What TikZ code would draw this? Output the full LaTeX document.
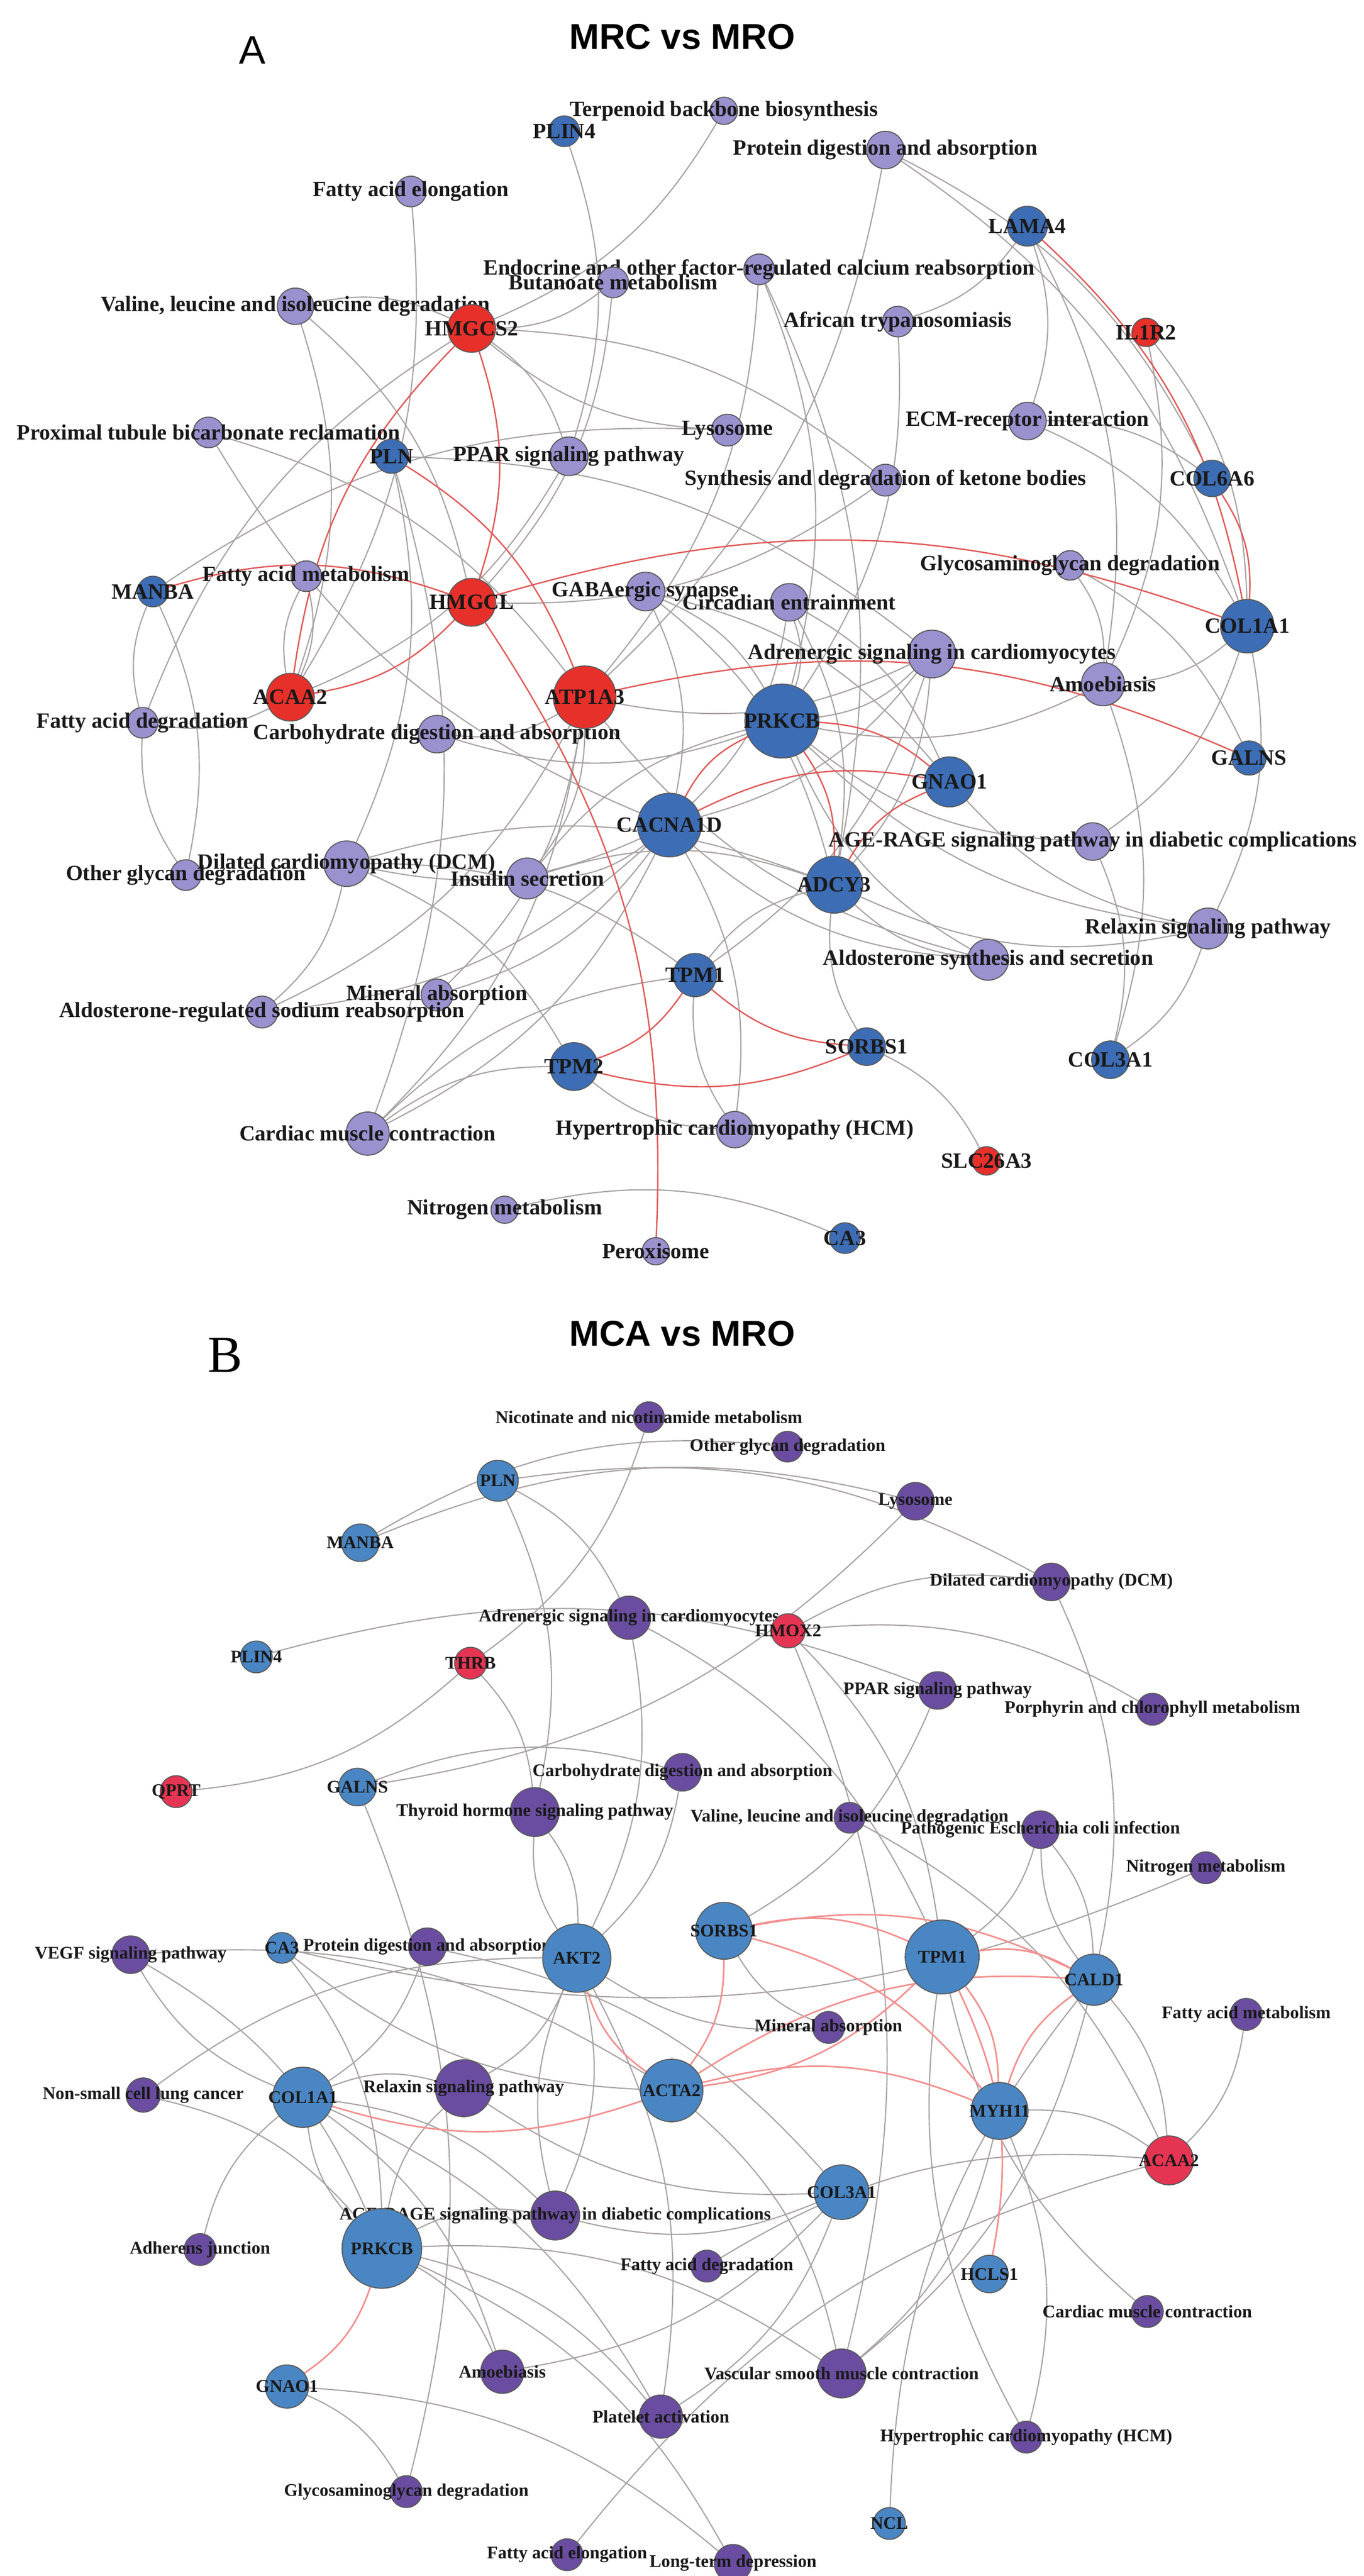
\documentclass[tikz,border=0pt]{standalone}
\usepackage{fontspec}
\setmainfont{Liberation Serif}
\newfontfamily\sansf{Liberation Sans}
\usetikzlibrary{backgrounds}
\definecolor{blueA}{HTML}{3D6DB5}
\definecolor{redA}{HTML}{E8302B}
\definecolor{purA}{HTML}{9A91CF}
\definecolor{blueB}{HTML}{4A86C3}
\definecolor{redB}{HTML}{E63553}
\definecolor{purB}{HTML}{6A4DA0}
\definecolor{eg}{HTML}{A8A3A3}
\definecolor{erA}{HTML}{E05A5A}
\definecolor{erB}{HTML}{F39090}
\tikzset{
 nd/.style={circle,draw=black!65,line width=0.5pt,inner sep=0pt},
 gA/.style={nd,fill=blueA}, rA/.style={nd,fill=redA}, pA/.style={nd,fill=purA},
 gB/.style={nd,fill=blueB}, rB/.style={nd,fill=redB}, pB/.style={nd,fill=purB},
 gAl/.style={lA}, rAl/.style={lA}, pAl/.style={lA},
 gBl/.style={lB}, rBl/.style={lB}, pBl/.style={lB},
 lA/.style={font=\fontsize{10.9}{12}\selectfont\bfseries,inner sep=0pt,text=black!90},
 lB/.style={font=\fontsize{8.9}{10}\selectfont\bfseries,inner sep=0pt,text=black!90},
 e/.style={draw=eg,line width=0.6pt,bend left=18},
 f/.style={draw=eg,line width=0.6pt,bend right=18},
 ra/.style={draw=erA,line width=0.7pt,bend left=18},
 rb/.style={draw=erB,line width=0.8pt,bend left=18},
}
\newcommand\N[6]{\node[#1,minimum size=#5*0.02cm,label={[#1l]center:#6}] (#2) at (#3*0.01,-#4*0.01) {};}
\begin{document}
\begin{tikzpicture}
\useasboundingbox (0,0) rectangle (23.99,-45.31);
% ---------- Panel A ----------
\node[font=\sansf\bfseries\fontsize{18}{20}\selectfont] (tA) at (12.0,-0.65) {MRC vs MRO};
\node[font=\sansf\fontsize{20}{22}\selectfont] (A) at (4.44,-0.88) {A};
\N{pA}{aTerp}{1274}{195}{24}{Terpenoid backbone biosynthesis}
\N{gA}{aPLIN4}{993}{231}{27}{PLIN4}
\N{pA}{aProt}{1558}{264}{33}{Protein digestion and absorption}
\N{pA}{aFAel}{723}{337}{27}{Fatty acid elongation}
\N{gA}{aLAMA4}{1808}{398}{35}{LAMA4}
\N{pA}{aEndo}{1336}{474}{27}{Endocrine and other factor-regulated calcium reabsorption}
\N{pA}{aButa}{1079}{497}{27}{Butanoate metabolism}
\N{pA}{aVal}{520}{539}{32}{Valine, leucine and isoleucine degradation}
\N{pA}{aAfr}{1580}{566}{27}{African trypanosomiasis}
\N{rA}{aIL1R2}{2017}{585}{25}{IL1R2}
\N{pA}{aProx}{367}{761}{27}{Proximal tubule bicarbonate reclamation}
\N{pA}{aLyso}{1280}{757}{28}{Lysosome}
\N{pA}{aECM}{1808}{741}{33}{ECM-receptor interaction}
\N{gA}{aPLN}{689}{803}{30}{PLN}
\N{pA}{aPPAR}{1001}{803}{34}{PPAR signaling pathway}
\N{pA}{aSynth}{1558}{845}{28}{Synthesis and degradation of ketone bodies}
\N{gA}{aCOL6A6}{2133}{842}{32}{COL6A6}
\N{pA}{aGlyco}{1883}{995}{26}{Glycosaminoglycan degradation}
\N{pA}{aFAmet}{539}{1014}{27}{Fatty acid metabolism}
\N{gA}{aMANBA}{269}{1041}{27}{MANBA}
\N{pA}{aGABA}{1136}{1041}{34}{GABAergic synapse}
\N{pA}{aCirc}{1389}{1060}{33}{Circadian entrainment}
\N{gA}{aCOL1A1}{2195}{1102}{47}{COL1A1}
\N{pA}{aAdr}{1640}{1151}{42}{Adrenergic signaling in cardiomyocytes}
\N{pA}{aAmoe}{1941}{1204}{38}{Amoebiasis}
\N{pA}{aFAdeg}{251}{1272}{27}{Fatty acid degradation}
\N{pA}{aCarb}{769}{1292}{33}{Carbohydrate digestion and absorption}
\N{gA}{aGALNS}{2198}{1334}{30}{GALNS}
\N{pA}{aAGE}{1923}{1481}{33}{AGE-RAGE signaling pathway in diabetic complications}
\N{pA}{aOther}{327}{1540}{27}{Other glycan degradation}
\N{pA}{aDCM}{610}{1520}{40}{Dilated cardiomyopathy (DCM)}
\N{pA}{aInsulin}{928}{1546}{36}{Insulin secretion}
\N{pA}{aRelax}{2126}{1634}{36}{Relaxin signaling pathway}
\N{pA}{aAldoS}{1739}{1689}{36}{Aldosterone synthesis and secretion}
\N{pA}{aMineral}{769}{1751}{28}{Mineral absorption}
\N{pA}{aAldoR}{461}{1781}{28}{Aldosterone-regulated sodium reabsorption}
\N{gA}{aCOL3A1}{1954}{1865}{33}{COL3A1}
\N{pA}{aHCM}{1293}{1988}{32}{Hypertrophic cardiomyopathy (HCM)}
\N{pA}{aCardiac}{647}{1995}{38}{Cardiac muscle contraction}
\N{rA}{aSLC}{1736}{2043}{25}{SLC26A3}
\N{pA}{aNitro}{888}{2129}{24}{Nitrogen metabolism}
\N{pA}{aPerox}{1154}{2202}{24}{Peroxisome}
\N{gA}{aCA3}{1487}{2179}{27}{CA3}
\N{rA}{aHMGCS2}{830}{578}{42}{HMGCS2}
\N{rA}{aHMGCL}{830}{1060}{42}{HMGCL}
\N{rA}{aACAA2}{511}{1227}{42}{ACAA2}
\N{rA}{aATP}{1029}{1227}{55}{ATP1A3}
\N{gA}{aPRKCB}{1376}{1269}{65}{PRKCB}
\N{gA}{aGNAO1}{1671}{1376}{44}{GNAO1}
\N{gA}{aCACNA}{1178}{1452}{56}{CACNA1D}
\N{gA}{aADCY3}{1468}{1557}{50}{ADCY3}
\N{gA}{aTPM1}{1223}{1716}{38}{TPM1}
\N{gA}{aSORBS1}{1525}{1842}{33}{SORBS1}
\N{gA}{aTPM2}{1010}{1877}{42}{TPM2}
% ---------- Panel B ----------
\node[font=\sansf\bfseries\fontsize{18}{20}\selectfont] (tB) at (12.0,-23.46) {MCA vs MRO};
\node[font=\fontsize{26}{28}\selectfont] (B) at (3.96,-23.84) {B};
\N{pB}{bNic}{1142}{2494}{27}{Nicotinate and nicotinamide metabolism}
\N{pB}{bOther}{1386}{2546}{27}{Other glycan degradation}
\N{gB}{bPLN}{876}{2606}{36}{PLN}
\N{pB}{bLyso}{1611}{2642}{33}{Lysosome}
\N{gB}{bMANBA}{634}{2715}{33}{MANBA}
\N{pB}{bDCM}{1850}{2784}{33}{Dilated cardiomyopathy (DCM)}
\N{pB}{bAdr}{1107}{2847}{38}{Adrenergic signaling in cardiomyocytes}
\N{rB}{bHMOX2}{1387}{2870}{30}{HMOX2}
\N{gB}{bPLIN4}{451}{2916}{28}{PLIN4}
\N{rB}{bTHRB}{828}{2927}{28}{THRB}
\N{pB}{bPPAR}{1650}{2975}{33}{PPAR signaling pathway}
\N{pB}{bPorph}{2028}{3008}{28}{Porphyrin and chlorophyll metabolism}
\N{pB}{bCarb}{1201}{3119}{33}{Carbohydrate digestion and absorption}
\N{gB}{bGALNS}{629}{3145}{33}{GALNS}
\N{rB}{bQPRT}{310}{3153}{28}{QPRT}
\N{pB}{bThy}{941}{3189}{43}{Thyroid hormone signaling pathway}
\N{pB}{bVal}{1495}{3199}{27}{Valine, leucine and isoleucine degradation}
\N{pB}{bPath}{1831}{3220}{33}{Pathogenic Escherichia coli infection}
\N{pB}{bNitro}{2122}{3287}{28}{Nitrogen metabolism}
\N{gB}{bCA3}{496}{3428}{27}{CA3}
\N{pB}{bProt}{752}{3426}{33}{Protein digestion and absorption}
\N{pB}{bVEGF}{230}{3440}{33}{VEGF signaling pathway}
\N{pB}{bFAmet}{2193}{3545}{28}{Fatty acid metabolism}
\N{pB}{bMineral}{1458}{3568}{28}{Mineral absorption}
\N{pB}{bRelax}{816}{3675}{50}{Relaxin signaling pathway}
\N{pB}{bNSCLC}{252}{3687}{30}{Non-small cell lung cancer}
\N{pB}{bAGE}{977}{3899}{43}{AGE-RAGE signaling pathway in diabetic complications}
\N{pB}{bAdh}{352}{3959}{28}{Adherens junction}
\N{pB}{bFAdeg}{1244}{3988}{28}{Fatty acid degradation}
\N{pB}{bCardiac}{2019}{4068}{28}{Cardiac muscle contraction}
\N{pB}{bAmoe}{884}{4174}{38}{Amoebiasis}
\N{pB}{bVSMC}{1481}{4177}{43}{Vascular smooth muscle contraction}
\N{pB}{bPlate}{1163}{4253}{38}{Platelet activation}
\N{pB}{bHCM}{1806}{4289}{28}{Hypertrophic cardiomyopathy (HCM)}
\N{pB}{bGlyco}{715}{4385}{28}{Glycosaminoglycan degradation}
\N{gB}{bNCL}{1565}{4441}{28}{NCL}
\N{pB}{bFAel}{998}{4496}{28}{Fatty acid elongation}
\N{pB}{bLTD}{1290}{4511}{33}{Long-term depression}
\N{gB}{bSORBS1}{1274}{3398}{50}{SORBS1}
\N{gB}{bTPM1}{1658}{3444}{65}{TPM1}
\N{gB}{bAKT2}{1015}{3446}{60}{AKT2}
\N{gB}{bCALD1}{1925}{3484}{45}{CALD1}
\N{gB}{bACTA2}{1182}{3679}{55}{ACTA2}
\N{gB}{bCOL1A1}{533}{3691}{53}{COL1A1}
\N{gB}{bMYH11}{1759}{3715}{50}{MYH11}
\N{rB}{bACAA2}{2057}{3802}{43}{ACAA2}
\N{gB}{bCOL3A1}{1481}{3858}{48}{COL3A1}
\N{gB}{bPRKCB}{672}{3957}{70}{PRKCB}
\N{gB}{bHCLS1}{1741}{4002}{33}{HCLS1}
\N{gB}{bGNAO1}{505}{4200}{38}{GNAO1}
\begin{scope}[on background layer]
% Panel A gray edges
\foreach \u/\v in {aPLIN4/aPPAR,aTerp/aHMGCS2,aFAel/aACAA2,aButa/aHMGCS2,aButa/aHMGCL,aVal/aHMGCS2,aVal/aACAA2,aVal/aHMGCL,
 aHMGCS2/aPPAR,aHMGCS2/aSynth,aProx/aATP,aPLN/aAdr,aPLN/aDCM,aPPAR/aACAA2,aProt/aATP,aProt/aCOL6A6,aProt/aCOL1A1,
 aLAMA4/aECM,aLAMA4/aAmoe,aLAMA4/aAfr,aIL1R2/aCOL1A1,aIL1R2/aAmoe,aECM/aCOL6A6,aECM/aCOL1A1,aGlyco/aGALNS,
 aCOL1A1/aAmoe,aCOL1A1/aRelax,aCOL1A1/aAGE,aCirc/aPRKCB,aCirc/aCACNA,aCirc/aADCY3,aCirc/aGNAO1,aGABA/aPRKCB,aGABA/aGNAO1,
 aGABA/aADCY3,aGABA/aCACNA,aAdr/aPRKCB,aAdr/aCACNA,aAdr/aADCY3,aAdr/aATP,aAdr/aTPM1,aAfr/aPRKCB,aMANBA/aOther,aMANBA/aLyso,
 aSynth/aHMGCL,aAmoe/aPRKCB,aAmoe/aCOL3A1,aAGE/aPRKCB,aAGE/aCOL3A1,aRelax/aGNAO1,aRelax/aADCY3,aRelax/aCOL3A1,aRelax/aPRKCB,
 aAldoS/aADCY3,aAldoS/aPRKCB,aAldoS/aCACNA,aAldoS/aATP,aACAA2/aFAdeg,aACAA2/aFAmet,aATP/aCarb,aATP/aInsulin,aATP/aMineral,
 aATP/aAldoR,aATP/aCardiac,aCACNA/aDCM,aCACNA/aInsulin,aCACNA/aCardiac,aCACNA/aHCM,aDCM/aTPM1,aDCM/aTPM2,aDCM/aADCY3,
 aHCM/aTPM1,aHCM/aTPM2,aCardiac/aTPM1,aCardiac/aTPM2,aInsulin/aADCY3,aInsulin/aPRKCB,aNitro/aCA3,aSORBS1/aSLC,aSORBS1/aADCY3,
 aTPM1/aADCY3,aEndo/aPRKCB,aEndo/aATP,aEndo/aADCY3,aFAdeg/aHMGCS2,aFAmet/aACAA2,aPLN/aCardiac,aGlyco/aAmoe,aDCM/aAldoR}
 \draw[e] (\u) to (\v);
\foreach \u/\v in {aFAdeg/aOther,aMANBA/aFAdeg,aCarb/aPRKCB,aMineral/aCACNA,aAldoR/aCACNA,aProx/aCACNA,aHMGCS2/aLyso}
 \draw[f] (\u) to (\v);
% Panel A red edges
\foreach \u/\v in {aACAA2/aHMGCS2,aHMGCS2/aHMGCL,aMANBA/aHMGCL,aHMGCL/aACAA2,aPLN/aATP,aLAMA4/aCOL1A1,aCOL6A6/aCOL1A1,
 aHMGCL/aCOL1A1,aATP/aGALNS,aPRKCB/aGNAO1,aPRKCB/aADCY3,aCACNA/aGNAO1,aADCY3/aGNAO1,aCACNA/aPRKCB,aTPM1/aTPM2,
 aSORBS1/aTPM1,aSORBS1/aTPM2,aHMGCL/aPerox}
 \draw[ra] (\u) to (\v);
% Panel B gray edges
\foreach \u/\v in {bNic/bTHRB,bTHRB/bQPRT,bTHRB/bThy,bPLN/bThy,bPLN/bAdr,bPLN/bDCM,bMANBA/bLyso,bMANBA/bOther,bPLIN4/bPPAR,
 bGALNS/bCarb,bGALNS/bGlyco,bLyso/bGALNS,bHMOX2/bDCM,bHMOX2/bPorph,bHMOX2/bVSMC,bAdr/bTPM1,bAdr/bAKT2,bPPAR/bSORBS1,
 bPath/bTPM1,bPath/bCALD1,bDCM/bCALD1,bNitro/bCA3,bVal/bACAA2,bThy/bAKT2,bCarb/bAKT2,bVEGF/bACTA2,bVEGF/bPRKCB,
 bProt/bCOL1A1,bProt/bCOL3A1,bCOL1A1/bRelax,bCOL1A1/bAGE,bCOL1A1/bPlate,bCOL1A1/bAmoe,bNSCLC/bAKT2,bNSCLC/bPRKCB,bAdh/bCOL1A1,
 bPRKCB/bAGE,bPRKCB/bAmoe,bPRKCB/bPlate,bPRKCB/bVSMC,bPRKCB/bRelax,bPRKCB/bLTD,bGNAO1/bLTD,bFAel/bACAA2,bFAdeg/bACAA2,
 bFAmet/bACAA2,bCardiac/bTPM1,bHCM/bTPM1,bNCL/bCALD1,bCOL3A1/bAGE,bCOL3A1/bRelax,bCOL3A1/bPlate,bCOL3A1/bAmoe,
 bACTA2/bVSMC,bMYH11/bVSMC,bCALD1/bVSMC,bMineral/bAKT2,bAKT2/bPlate,bAKT2/bRelax,bAKT2/bAGE,bCA3/bPRKCB,bGNAO1/bGlyco,
 bCALD1/bACAA2,bMYH11/bACAA2,bMineral/bSORBS1,bHMOX2/bTPM1}
 \draw[e] (\u) to (\v);
\foreach \u/\v in {bThy/bAKT2,bPath/bCALD1,bCA3/bACTA2,bCOL1A1/bPRKCB,bAKT2/bAGE,bVEGF/bCOL1A1,bHCM/bMYH11}
 \draw[f] (\u) to (\v);
% Panel B red edges
\foreach \u/\v in {bSORBS1/bTPM1,bSORBS1/bACTA2,bSORBS1/bMYH11,bSORBS1/bCALD1,bTPM1/bACTA2,bTPM1/bCALD1,bTPM1/bMYH11,
 bTPM1/bHCLS1,bACTA2/bCALD1,bACTA2/bMYH11,bMYH11/bCALD1,bACTA2/bCOL1A1,bPRKCB/bGNAO1,bACTA2/bAKT2}
 \draw[rb] (\u) to (\v);
\end{scope}
\end{tikzpicture}
\end{document}
